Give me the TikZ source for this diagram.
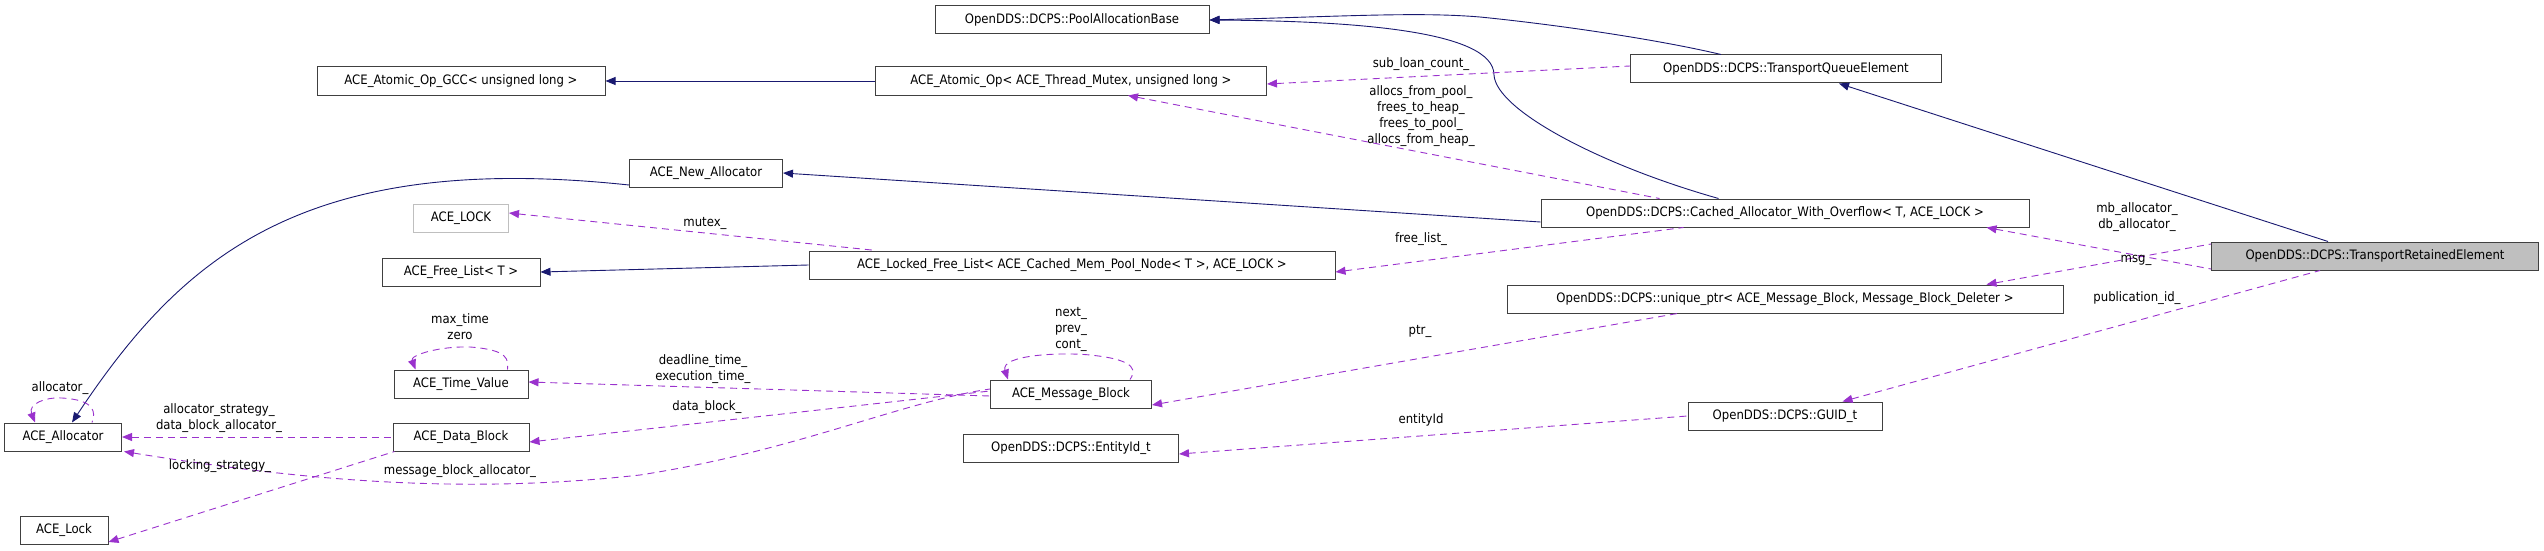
\documentclass[tikz,border=0pt]{standalone}
\usepackage{fontspec}
\setmainfont{DejaVu Sans Condensed}
\usetikzlibrary{arrows.meta,calc}

\definecolor{inhcol}{HTML}{191970}
\definecolor{usecol}{HTML}{9A32CD}

\begin{document}
\begin{tikzpicture}[x=1pt,y=-1pt,>={Triangle[length=10pt,width=8pt]},
    cls/.style={draw=black!75,line width=1pt,fill=white,inner sep=0pt,
                minimum height=28pt,font=\fontsize{13}{15}\selectfont},
    ext/.style={cls,draw=black!25},
    self/.style={cls,fill=black!25},
    inh/.style={<-,draw=inhcol,line width=0.9pt},
    use/.style={<-,draw=usecol,line width=0.9pt,dash pattern=on 7pt off 5pt},
    lbl/.style={align=center,inner sep=0pt,font=\fontsize{13}{16}\selectfont}]
  \useasboundingbox (0,0) rectangle (2544,551);
  % classes
  \node[cls,minimum width=274pt] (PAB) at (1072,20) {OpenDDS::DCPS::PoolAllocationBase};
  \node[cls,minimum width=288pt] (GCC) at (461,81) {ACE\_Atomic\_Op\_GCC< unsigned long >};
  \node[cls,minimum width=391pt] (AOp) at (1071,81) {ACE\_Atomic\_Op< ACE\_Thread\_Mutex, unsigned long >};
  \node[cls,minimum width=311pt] (TQE) at (1786,69) {OpenDDS::DCPS::TransportQueueElement};
  \node[cls,minimum width=153pt] (NewAlloc) at (706,173) {ACE\_New\_Allocator};
  \node[ext,minimum width=95pt] (LOCK) at (461,218) {ACE\_LOCK};
  \node[cls,minimum width=488pt] (Cached) at (1785,213) {OpenDDS::DCPS::Cached\_Allocator\_With\_Overflow< T, ACE\_LOCK >};
  \node[cls,minimum width=158pt] (FreeList) at (461,272) {ACE\_Free\_List< T >};
  \node[cls,minimum width=526pt] (Locked) at (1072,265) {ACE\_Locked\_Free\_List< ACE\_Cached\_Mem\_Pool\_Node< T >, ACE\_LOCK >};
  \node[self,minimum width=327pt] (TRE) at (2375,256) {OpenDDS::DCPS::TransportRetainedElement};
  \node[cls,minimum width=556pt] (UPtr) at (1785,299) {OpenDDS::DCPS::unique\_ptr< ACE\_Message\_Block, Message\_Block\_Deleter >};
  \node[cls,minimum width=134pt] (TimeVal) at (461,384) {ACE\_Time\_Value};
  \node[cls,minimum width=161pt] (MsgBlock) at (1071,394) {ACE\_Message\_Block};
  \node[cls,minimum width=194pt] (GUID) at (1785,416) {OpenDDS::DCPS::GUID\_t};
  \node[cls,minimum width=117pt] (Alloc) at (63,437) {ACE\_Allocator};
  \node[cls,minimum width=136pt] (DataBlock) at (461,437) {ACE\_Data\_Block};
  \node[cls,minimum width=215pt] (EntId) at (1071,448) {OpenDDS::DCPS::EntityId\_t};
  \node[cls,minimum width=88pt] (Lock) at (64,530) {ACE\_Lock};

  % inheritance
  \draw[inh] (PAB.east) .. controls (1350,16) and (1420,12) .. (1480,17)
    .. controls (1560,25) and (1660,40) .. ([xshift=91pt]TQE.north west);
  \draw[inh] (PAB.east) .. controls (1350,21) and (1494,30) .. (1494,75)
    .. controls (1496,110) and (1600,165) .. ([xshift=178pt]Cached.north west);
  \draw[inh] ([xshift=209pt]TQE.south west) -- ([xshift=117pt]TRE.north west);
  \draw[inh] (GCC.east) -- (AOp.west);
  \draw[inh] (NewAlloc.east) -- ([yshift=-9pt]Cached.west);
  \draw[inh] ([xshift=9pt]Alloc.north) .. controls (180,260) and (300,150) .. ([yshift=-12pt]NewAlloc.west);
  \draw[inh] (FreeList.east) -- (Locked.west);

  % usage
  \draw[use] ([xshift=57pt]AOp.south) -- ([xshift=119pt]Cached.north west);
  \node[lbl] (lAOp) at (1421,116) {allocs\_from\_pool\_\\frees\_to\_heap\_\\frees\_to\_pool\_\\allocs\_from\_heap\_};
  \draw[use] ([yshift=-3pt]AOp.east) -- ([yshift=3pt]TQE.west);
  \node[lbl] (lSub) at (1421,64) {sub\_loan\_count\_};
  \draw[use] ([yshift=5pt]LOCK.east) -- ([xshift=68pt]Locked.north west);
  \node[lbl] (lMut) at (705,223) {mutex\_};
  \draw[use] ([yshift=-7pt]Locked.east) -- ([xshift=143pt]Cached.south west);
  \node[lbl] (lFree) at (1421,239) {free\_list\_};
  \draw[use] ([xshift=-43pt]Cached.south east) -- ([yshift=-13pt]TRE.west);
  \node[lbl] (lMb) at (2137,217) {mb\_allocator\_\\db\_allocator\_};
  \draw[use] ([xshift=-77pt]UPtr.north east) -- ([yshift=12pt]TRE.west);
  \node[lbl] (lMsg) at (2136,260) {msg\_};
  \draw[use] ([xshift=155pt]GUID.north west) -- ([xshift=109pt]TRE.south west);
  \node[lbl] (lPub) at (2137,298) {publication\_id\_};
  \draw[use] ([yshift=-11pt]MsgBlock.east) -- ([xshift=171pt]UPtr.south west);
  \node[lbl] (lPtr) at (1420,331) {ptr\_};
  \draw[use] ([xshift=18pt]MsgBlock.north west) .. controls (1000,355) and (1060,352) .. (1090,355)
    .. controls (1140,360) and (1135,372) .. ([xshift=-22pt]MsgBlock.north east);
  \node[lbl] (lMB) at (1071,329) {next\_\\prev\_\\cont\_};
  \draw[use] ([yshift=2pt]TimeVal.east) -- ([yshift=-2pt]MsgBlock.west);
  \node[lbl] (lDead) at (703,369) {deadline\_time\_\\execution\_time\_};
  \draw[use] ([yshift=-5pt]DataBlock.east) -- ([yshift=3pt]MsgBlock.west);
  \node[lbl] (lDB) at (707,407) {data\_block\_};
  \draw[use] ([xshift=2pt]Alloc.south east) .. controls (300,480) and (460,495) .. (640,475)
    .. controls (800,450) and (900,402) .. ([yshift=5pt]MsgBlock.west);
  \node[lbl] (lMBA) at (460,471) {message\_block\_allocator\_};
  \draw[use] ([xshift=22pt]TimeVal.north west) .. controls (410,355) and (440,346) .. (470,347)
    .. controls (510,350) and (508,360) .. ([xshift=-21pt]TimeVal.north east);
  \node[lbl] (lTV) at (460,327) {max\_time\\zero};
  \draw[use] (Alloc.east) -- (DataBlock.west);
  \node[lbl] (lAS) at (219,418) {allocator\_strategy\_\\data\_block\_allocator\_};
  \draw[use] ([yshift=-12pt]Lock.east) -- ([xshift=2pt]DataBlock.south west);
  \node[lbl] (lLS) at (220,466) {locking\_strategy\_};
  \draw[use] ([xshift=-28pt]Alloc.north) .. controls (28,404) and (45,397) .. (62,398)
    .. controls (95,400) and (96,412) .. ([xshift=29pt]Alloc.north);
  \node[lbl] (lAl) at (60,388) {allocator\_};
  \draw[use] ([yshift=-6pt]EntId.east) -- (GUID.west);
  \node[lbl] (lEnt) at (1421,420) {entityId};
\end{tikzpicture}
\end{document}
